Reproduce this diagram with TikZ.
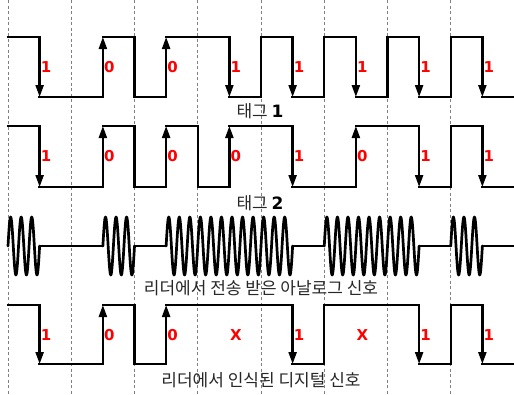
\documentclass[tikz,border=0pt]{standalone}
\usepackage{fontspec}
\newfontfamily\hangul{Noto Sans CJK KR}
\newfontfamily\digits{DejaVu Sans}
\usetikzlibrary{arrows.meta}

% half of one bit cell (px)
\newcommand\halfbit{31.625}
% bold number after a tag caption
\newcommand\tagno[1]{{\digits\bfseries\color{black}\fontsize{17}{17}\selectfont #1}}

% square wave: #1 high y, #2 low y, #3 level per half cell (1 = high)
\newcommand\squarewave[3]{%
  \foreach \lv [count=\i from 0, remember=\lv as \prev (initially 9)] in {#3} {
    \pgfmathsetmacro\xa{8+\halfbit*\i}
    \pgfmathsetmacro\ya{\lv==1 ? #1 : #2}
    \draw[wave] (\xa,\ya) -- ++(\halfbit,0);
    \ifnum\prev=9 \else\ifnum\prev=\lv \else
      \pgfmathsetmacro\yb{\prev==1 ? #1 : #2}
      \ifodd\i
        \draw[wave, edgearrow] (\xa,\yb) -- (\xa,\ya);
      \else
        \draw[wave] (\xa,\yb) -- (\xa,\ya);
      \fi
    \fi\fi
  }%
}

\begin{document}
\begin{tikzpicture}[
  x=1pt, y=-1pt,
  wave/.style = {line width=2.3pt, line cap=rect, black},
  edgearrow/.style = {-{Triangle[length=12pt,width=8pt]}},
  carrier/.style = {line width=2.7pt, line join=round, line cap=round},
  divider/.style = {gray, line width=0.8pt, dash pattern=on 3pt off 2.5pt},
  bitlabel/.style = {text=red, inner sep=0pt,
    font=\digits\bfseries\fontsize{15}{15}\selectfont},
  caption/.style = {text=black!85, inner sep=0pt,
    font=\hangul\fontsize{17}{17}\selectfont},
]
\useasboundingbox (0,0) rectangle (514,394);

% bit cell borders
\foreach \k in {0,...,8}
  \draw[divider] ({8+2*\halfbit*\k},0) -- ++(0,394);

% Tag 1
\squarewave{37}{97}{1,0,0,1,0,1,1,0,1,0,1,0,1,0,1,0}
\foreach \b [count=\k from 0] in {1,0,0,1,1,1,1,1}
  \node[bitlabel] (tagA\k) at ({8+\halfbit*(2*\k+1)+6.5},67) {\b};
\node[caption] (tagA) at (260,111) {태그 \tagno{1}};

% Tag 2
\squarewave{126}{187}{1,0,0,1,0,1,0,1,1,0,0,1,1,0,1,0}
\foreach \b [count=\k from 0] in {1,0,0,0,1,0,1,1}
  \node[bitlabel] (tagB\k) at ({8+\halfbit*(2*\k+1)+6.5},156) {\b};
\node[caption] (tagB) at (260,203) {태그 \tagno{2}};

% analog signal seen by the reader
\foreach \lv [count=\i from 0] in {1,0,0,1,0,1,1,1,1,0,1,1,1,0,1,0} {
  \pgfmathsetmacro\xa{8+\halfbit*\i}
  \pgfmathsetmacro\xb{\xa+\halfbit}
  \ifnum\lv=1
    \draw[carrier] plot[domain=\xa:\xb, samples=49, smooth]
      (\x,{246-29*sin((\x-\xa)/\halfbit*1080)});
  \else
    \draw[carrier] (\xa,246) -- (\xb,246);
  \fi
}
\node[caption] (analog) at (261,288) {리더에서 전송 받은 아날로그 신호};

% digital signal decoded by the reader
\squarewave{305}{364}{1,0,0,1,0,1,1,1,1,0,1,1,1,0,1,0}
\foreach \b [count=\k from 0] in {1,0,0,X,1,X,1,1}
  \node[bitlabel] (rdr\k) at ({8+\halfbit*(2*\k+1)+6.5},335) {\b};
\node[caption] (digital) at (261,380) {리더에서 인식된 디지털 신호};
\end{tikzpicture}
\end{document}
